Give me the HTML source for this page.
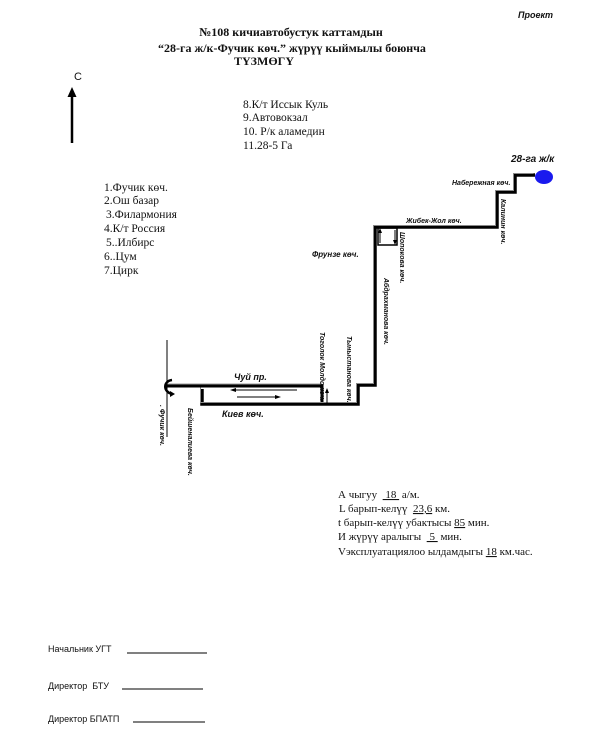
<!DOCTYPE html>
<html><head><meta charset="utf-8"><style>
html,body{margin:0;padding:0;background:#fff}
svg{display:block}
.s{font-family:"Liberation Serif",serif;fill:#111}
.a{font-family:"Liberation Sans",sans-serif;fill:#111}
.l{font-family:"Liberation Sans",sans-serif;font-weight:bold;font-style:italic;fill:#111}
</style></head><body>
<svg width="600" height="750" viewBox="0 0 600 750" xmlns="http://www.w3.org/2000/svg">
<text class="l" x="518" y="18" font-size="9">Проект</text>
<g class="s" font-weight="bold" font-size="12" text-anchor="middle">
<text x="291" y="36">№108 кичиавтобустук каттамдын</text>
<text x="292" y="52">“28-га ж/к-Фучик көч.” жүрүү кыймылы боюнча</text>
<text x="264" y="65">ТҮЗМӨГҮ</text>
</g>
<text class="a" x="74" y="80" font-size="11">C</text>
<line x1="72" y1="143" x2="72" y2="94" stroke="#000" stroke-width="2.5"/>
<polygon points="72,87 67.5,97 76.5,97" fill="#000"/>
<g class="s" font-size="11.5">
<text x="243" y="108">8.К/т Иссык Куль</text>
<text x="243" y="121">9.Автовокзал</text>
<text x="243" y="135">10. Р/к аламедин</text>
<text x="243" y="149">11.28-5 Га</text>
<text x="104" y="191">1.Фучик көч.</text>
<text x="104" y="204">2.Ош базар</text>
<text x="106" y="218">3.Филармония</text>
<text x="104" y="232">4.К/т Россия</text>
<text x="106" y="246">5..Илбирс</text>
<text x="104" y="260">6..Цум</text>
<text x="104" y="274">7.Цирк</text>
</g>
<!-- route -->
<g fill="none" stroke-linejoin="miter">
<polyline points="535,175 515,175 515,192 497,192 497,227 375,227 375,385 358,385 358,404 202,404 202,389" stroke="#000" stroke-width="3.5"/>
<polyline points="535,175 515,175 515,192 497,192 497,227 375,227 375,385 358,385 358,404 202,404 202,389" stroke="#888" stroke-width="1" transform="translate(-1.5,-1.5)"/>
<polyline points="167,386 322,386 322,402" stroke="#000" stroke-width="3"/>
<line x1="167" y1="384" x2="322" y2="384" stroke="#999" stroke-width="1"/>
<line x1="167" y1="340" x2="167" y2="437" stroke="#000" stroke-width="1"/>
<rect x="378" y="228" width="19" height="17" stroke="#000" stroke-width="1.5"/>
<line x1="380" y1="243" x2="380" y2="230" stroke="#000" stroke-width="1"/>
<line x1="395" y1="230" x2="395" y2="243" stroke="#000" stroke-width="1"/>
<line x1="297" y1="390" x2="234" y2="390" stroke="#000" stroke-width="1"/>
<line x1="237" y1="397" x2="276" y2="397" stroke="#000" stroke-width="1"/>
<line x1="327" y1="403" x2="327" y2="390" stroke="#000" stroke-width="1"/>
<path d="M172,394 C163,392 163,381 172,380" stroke="#000" stroke-width="2.5"/>
</g>
<polygon points="230,390 236,388 236,392" fill="#000"/>
<polygon points="281,397 275,395 275,399" fill="#000"/>
<polygon points="380,228 378,233 382,233" fill="#000"/>
<polygon points="395,245 393,240 397,240" fill="#000"/>
<polygon points="327,388 325,393 329,393" fill="#000"/>
<polygon points="175,394 170,391 170,397" fill="#000"/>
<ellipse cx="544" cy="177" rx="9" ry="7" fill="#1a1aee"/>
<text class="l" x="511" y="162" font-size="10">28-га ж/к</text>
<text class="l" x="452" y="185" font-size="7">Набережная көч.</text>
<text class="l" x="406" y="223" font-size="7">Жибек-Жол көч.</text>
<text class="l" x="312" y="257" font-size="8">Фрунзе көч.</text>
<text class="l" x="234" y="380" font-size="9">Чуй пр.</text>
<text class="l" x="222" y="417" font-size="9">Киев көч.</text>
<g class="l" font-size="7">
<text transform="translate(501,199) rotate(90)">Калинин көч.</text>
<text transform="translate(400,232) rotate(90)">Шопокова көч.</text>
<text transform="translate(384,278) rotate(90)">Абдрахманова көч.</text>
<text transform="translate(320,332) rotate(90)">Тоголок Молдо көч.</text>
<text transform="translate(347,336) rotate(90)">Тыныстанова көч.</text>
<text transform="translate(188,408) rotate(90)">Бейшеналиева көч.</text>
<text transform="translate(160,405) rotate(90)">. Фучик көч.</text>
</g>
<g class="s" font-size="11">
<text x="338" y="498">А чыгуу &#160;<tspan text-decoration="underline">&#160;18&#160;</tspan> а/м.</text>
<text x="339" y="512">L барып-келүү &#160;<tspan text-decoration="underline">23,6</tspan> км.</text>
<text x="338" y="526">t барып-келүү убактысы <tspan text-decoration="underline">85</tspan> мин.</text>
<text x="338" y="540">И жүрүү аралыгы &#160;<tspan text-decoration="underline">&#160;5&#160;</tspan> мин.</text>
<text x="338" y="555">Vэксплуатациялоо ылдамдыгы <tspan text-decoration="underline">18</tspan> км.час.</text>
</g>
<g class="a" font-size="9">
<text x="48" y="652">Начальник УГТ</text>
<text x="48" y="689">Директор &#160;БТУ</text>
<text x="48" y="722">Директор БПАТП</text>
</g>
<g stroke="#000" stroke-width="1">
<line x1="127" y1="653" x2="207" y2="653"/>
<line x1="122" y1="689" x2="203" y2="689"/>
<line x1="133" y1="722" x2="205" y2="722"/>
</g>
</svg>
</body></html>
